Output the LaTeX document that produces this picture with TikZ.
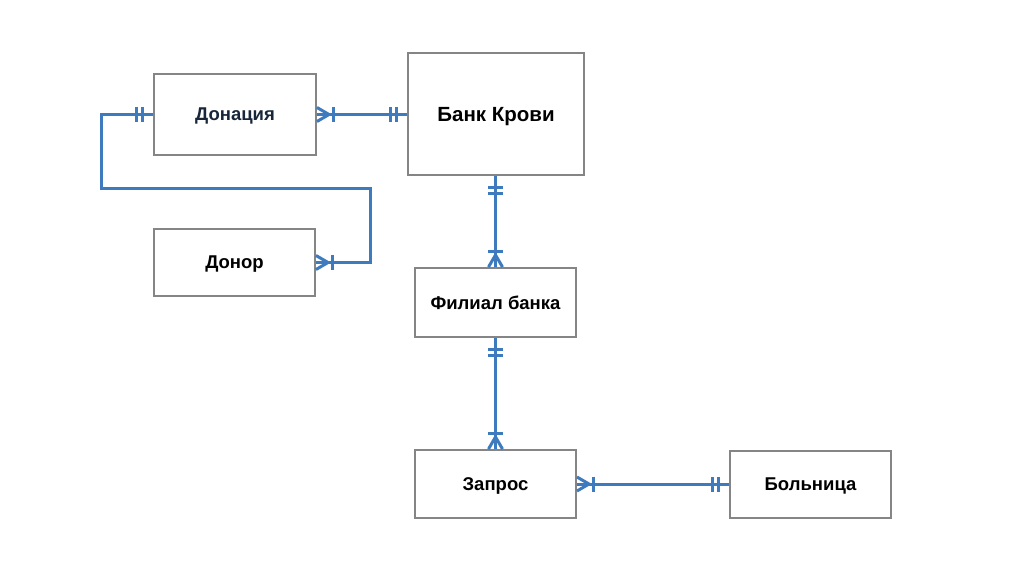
\documentclass[tikz,border=0pt]{standalone}
\usepackage{fontspec}
\setmainfont{Liberation Sans}
\definecolor{lineblue}{HTML}{3D7BBE}
\definecolor{boxgray}{HTML}{858585}
\definecolor{navy}{HTML}{17263A}
\begin{document}
\begin{tikzpicture}[x=1pt,y=-1pt,
  entity/.style={draw=boxgray,line width=2pt,rectangle,fill=white,
    font=\fontsize{18.5}{21}\selectfont\bfseries,inner sep=0pt,text depth=0pt},
  conn/.style={draw=lineblue,line width=3pt},
  tick/.style={draw=lineblue,line width=3pt},
  bars/.pic={\draw[tick] (11,-7.5)--(11,7.5) (17,-7.5)--(17,7.5);},
  crow/.pic={\draw[tick,line join=miter] (0,-7)--(12,0)--(0,7); \draw[tick] (16,-7.5)--(16,7.5);}
]
\useasboundingbox[fill=white] (0,0) rectangle (1022,565);
\node[entity,minimum width=162pt,minimum height=81pt,text=navy] (don) at (235,114.5) {Донация};
\node[entity,minimum width=176pt,minimum height=122pt,font=\fontsize{20.5}{24}\selectfont\bfseries] (bank) at (496,114) {Банк Крови};
\node[entity,minimum width=161pt,minimum height=67pt] (donor) at (234.5,262.5) {Донор};
\node[entity,minimum width=161pt,minimum height=69pt] (fil) at (495.5,302.5) {Филиал банка};
\node[entity,minimum width=161pt,minimum height=68pt] (zap) at (495.5,484) {Запрос};
\node[entity,minimum width=161pt,minimum height=67pt] (hosp) at (810.5,484) {Больница};
\coordinate (c1) at (101,114.5);
\coordinate (c2) at (101,188);
\coordinate (c3) at (370,188);
\coordinate (c4) at (370,262.5);
\draw[conn] (don.east) -- (bank.west |- don.east);
\draw[conn] (don.west) -- (c1) -- (c2) -- (c3) -- (c4) -- (donor.east);
\draw[conn] (bank.south -| fil.north) -- (fil.north);
\draw[conn] (fil.south) -- (zap.north);
\draw[conn] (zap.east) -- (hosp.west);
\pic at (don.east) {crow};
\pic[rotate=180] at (bank.west |- don.east) {bars};
\pic[rotate=180] at (don.west) {bars};
\pic at (donor.east) {crow};
\pic[rotate=-90] at (bank.south -| fil.north) {bars};
\pic[rotate=90] at (fil.north) {crow};
\pic[rotate=-90] at (fil.south) {bars};
\pic[rotate=90] at (zap.north) {crow};
\pic at (zap.east) {crow};
\pic[rotate=180] at (hosp.west) {bars};
\end{tikzpicture}
\end{document}
